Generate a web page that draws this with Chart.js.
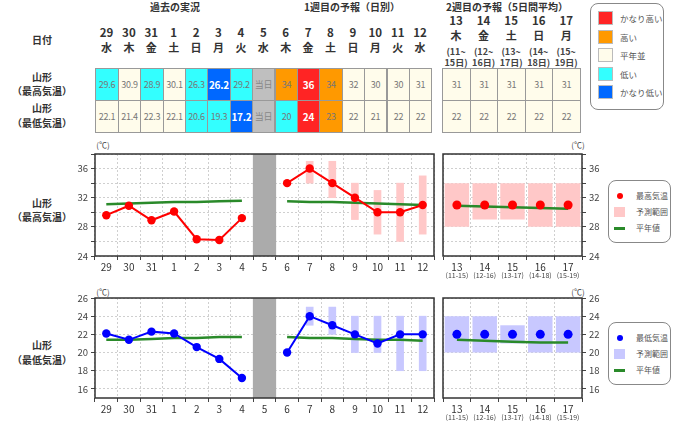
<!DOCTYPE html>
<html>
<head>
<meta charset="utf-8">
<script src="https://cdn.jsdelivr.net/npm/chart.js@4.4.0/dist/chart.umd.min.js"></script>
<style>
  body { margin: 0; background: #fff; font-family: "Noto Sans CJK JP", "Noto Sans", sans-serif; }
  #page { position: relative; width: 680px; height: 427px; overflow: hidden; }
  .t { position: absolute; transform: translate(-50%, -50%); white-space: nowrap; color: #333; line-height: 1; }
  .cell { position: absolute; box-sizing: border-box; border: 1px solid #999; display: flex;
          align-items: center; justify-content: center; font-size: 9px; color: #777; letter-spacing: -0.2px; }
  .box { position: absolute; border: 1px solid #888; border-radius: 8px; box-sizing: border-box; background: #fff; }
  canvas { position: absolute; }
</style>
</head>
<body>
<div id="page"></div>
<script>
// Days shown in the daily part (past + week 1), index 7 is today
const days = ['29', '30', '31', '1', '2', '3', '4', '5', '6', '7', '8', '9', '10', '11', '12']
const weekdays = ['水', '木', '金', '土', '日', '月', '火', '水', '木', '金', '土', '日', '月', '火', '水']
const todayIndex = 7

// Max temperature
const maxObs = [29.6, 30.9, 28.9, 30.1, 26.3, 26.2, 29.2, null, 34, 36, 34, 32, 30, 30, 31]
const maxNormal = [31.1, 31.2, 31.3, 31.4, 31.4, 31.5, 31.6, null, 31.5, 31.4, 31.4, 31.3, 31.2, 31.1, 31.0]
const maxRange = [null, null, null, null, null, null, null, null, null,
  [34, 37], [32, 37], [29, 34], [27, 33], [26, 34], [27, 35]]
const maxClass = ['l', 'n', 'l', 'n', 'l', 'vl', 'l', 't', 'h', 'vh', 'h', 'n', 'n', 'n', 'n']

// Min temperature
const minObs = [22.1, 21.4, 22.3, 22.1, 20.6, 19.3, 17.2, null, 20, 24, 23, 22, 21, 22, 22]
const minNormal = [21.4, 21.4, 21.5, 21.6, 21.6, 21.7, 21.7, null, 21.7, 21.6, 21.6, 21.5, 21.4, 21.4, 21.3]
const minRange = [null, null, null, null, null, null, null, null, null,
  [23, 25], [22, 25], [20, 24], [20, 24], [18, 24], [18, 24]]
const minClass = ['n', 'n', 'n', 'n', 'l', 'l', 'vl', 't', 'l', 'vh', 'h', 'n', 'n', 'n', 'n']

// Week 2 (5 day means)
const w2Days = ['13', '14', '15', '16', '17']
const w2Weekdays = ['木', '金', '土', '日', '月']
const w2From = ['11', '12', '13', '14', '15']
const w2To = ['15', '16', '17', '18', '19']
const w2Max = [31, 31, 31, 31, 31]
const w2MaxRange = [[28, 34], [29, 34], [29, 34], [28, 34], [28, 34]]
const w2MaxNormal = [30.9, 30.8, 30.7, 30.6, 30.5]
const w2Min = [22, 22, 22, 22, 22]
const w2MinRange = [[20, 24], [20, 24], [21, 23], [20, 24], [20, 24]]
const w2MinNormal = [21.4, 21.3, 21.2, 21.1, 21.1]

// Axis ticks
const maxTicks = [24, 26, 28, 30, 32, 34, 36, 38]
const maxTickLabels = [24, 28, 32, 36]
const minTicks = [16, 18, 20, 22, 24, 26]
const minTickLabels = [16, 18, 20, 22, 24, 26]

const classColors = { vh: '#FF2424', h: '#FF9900', n: '#FFFCEB', l: '#33FFFF', vl: '#0068FF', t: '#BFBFBF' }
const classNames = [['vh', 'かなり高い'], ['h', '高い'], ['n', '平年並'], ['l', '低い'], ['vl', 'かなり低い']]

const F = '"Noto Sans CJK JP", "Noto Sans", sans-serif'
const GREEN = '#2A8A2A'
const page = document.getElementById('page')

function txt (x, y, s, css) {
  const d = document.createElement('div')
  d.className = 't'
  d.style.left = x + 'px'
  d.style.top = y + 'px'
  d.style.cssText += css || ''
  d.textContent = s
  page.appendChild(d)
  return d
}

function box (x, y, w, h) {
  const d = document.createElement('div')
  d.className = 'box'
  Object.assign(d.style, { left: x + 'px', top: y + 'px', width: w + 'px', height: h + 'px' })
  page.appendChild(d)
  return d
}

function cell (x, w, y, h, text, cls) {
  const d = document.createElement('div')
  d.className = 'cell'
  const l = Math.round(x)
  d.style.left = l + 'px'
  d.style.width = (Math.round(x + w) - l + 1) + 'px'
  d.style.top = y + 'px'
  d.style.height = (h + 1) + 'px'
  d.style.background = classColors[cls]
  if (cls === 'vh' || cls === 'vl') {
    d.style.color = '#fff'
    d.style.fontWeight = 'bold'
    d.style.fontSize = '10px'
  }
  if (cls === 't') d.style.color = '#888'
  d.textContent = text
  page.appendChild(d)
}

//  Top table
const col0 = 95.3, colW = 22.4, w2col0 = 442.3, w2colW = 27.54
const head = 'font-weight:bold;font-size:10px;color:#333;'
txt(175, 7, '過去の実況', head)
txt(352, 7, '1週目の予報（日別）', head)
txt(507, 7, '2週目の予報（5日間平均）', head)
txt(42, 40, '日付', head)
txt(42, 77, '山形', head)
txt(42, 91, '（最高気温）', head)
txt(42, 108, '山形', head)
txt(42, 123, '（最低気温）', head)

const cellText = (v, i) => i === todayIndex ? '当日' : (i < todayIndex ? v.toFixed(1) : String(v))
days.forEach((d, i) => {
  const cx = col0 + (i + 0.5) * colW
  txt(cx, 33, d, 'font-weight:bold;font-size:11.5px;')
  txt(cx, 47, weekdays[i], 'font-weight:bold;font-size:11px;')
  cell(col0 + i * colW, colW, 68, 32, cellText(maxObs[i], i), maxClass[i])
  cell(col0 + i * colW, colW, 100, 32, cellText(minObs[i], i), minClass[i])
})
w2Days.forEach((d, i) => {
  const cx = w2col0 + (i + 0.5) * w2colW
  txt(cx, 21, d, 'font-weight:bold;font-size:11.5px;')
  txt(cx, 35, w2Weekdays[i], 'font-weight:bold;font-size:11px;')
  txt(cx, 51, '(' + w2From[i] + '~', 'font-weight:bold;font-size:9px;color:#444;')
  txt(cx, 62, w2To[i] + '日)', 'font-weight:bold;font-size:9px;color:#444;')
  cell(w2col0 + i * w2colW, w2colW, 68, 32, String(w2Max[i]), 'n')
  cell(w2col0 + i * w2colW, w2colW, 100, 32, String(w2Min[i]), 'n')
})

//  Colour legend of the table
box(590, 3, 74, 107)
classNames.forEach(([c, name], i) => {
  const y = 11 + i * 18.5
  const s = document.createElement('div')
  Object.assign(s.style, { position: 'absolute', left: '598px', top: y + 'px', width: '15px', height: '14px',
    background: classColors[c], border: '1px solid #bbb', boxSizing: 'border-box' })
  page.appendChild(s)
  const t = txt(620, y + 7, name, 'font-size:8.5px;color:#555;transform:translate(0,-50%);')
})

//  Left labels of the charts
txt(42, 203, '山形', head)
txt(42, 217, '（最高気温）', head)
txt(42, 345, '山形', head)
txt(42, 360, '（最低気温）', head)
txt(103, 145, '(℃)', 'font-size:8px;color:#444;')
txt(578, 145, '(℃)', 'font-size:8px;color:#444;')
txt(103, 292, '(℃)', 'font-size:8px;color:#444;')
txt(578, 292, '(℃)', 'font-size:8px;color:#444;')

//  Chart legends
function chartLegend (top, dot, fill, label) {
  box(608, top, 63, 63)
  const d = document.createElement('div')
  Object.assign(d.style, { position: 'absolute', left: '617px', top: (top + 13) + 'px', width: '6px', height: '6px',
    borderRadius: '50%', background: dot })
  page.appendChild(d)
  const s = document.createElement('div')
  Object.assign(s.style, { position: 'absolute', left: '614px', top: (top + 27) + 'px', width: '11px', height: '10px', background: fill })
  page.appendChild(s)
  const g = document.createElement('div')
  Object.assign(g.style, { position: 'absolute', left: '614px', top: (top + 47) + 'px', width: '11px', height: '3px', background: GREEN })
  page.appendChild(g)
  txt(636, top + 16, label, 'font-size:8px;color:#555;transform:translate(0,-50%);')
  txt(636, top + 32, '予測範囲', 'font-size:8px;color:#555;transform:translate(0,-50%);')
  txt(636, top + 48, '平年値', 'font-size:8px;color:#555;transform:translate(0,-50%);')
}
chartLegend(180, '#FF0000', '#FFC8C8', '最高気温')
chartLegend(322, '#0000FF', '#C8C8FF', '最低気温')

//  Charts
function addCanvas (x, y, w, h) {
  const c = document.createElement('canvas')
  c.width = w
  c.height = h
  Object.assign(c.style, { left: x + 'px', top: y + 'px', width: w + 'px', height: h + 'px' })
  page.appendChild(c)
  return c
}

const framePlugin = {
  id: 'frame',
  afterDatasetsDraw (c) {
    const a = c.chartArea, ctx = c.ctx
    ctx.save()
    ctx.strokeStyle = '#333'
    ctx.lineWidth = 1.5
    ctx.strokeRect(a.left, a.top, a.right - a.left, a.bottom - a.top)
    ctx.restore()
  }
}

const subLabelPlugin = {
  id: 'subLabels',
  afterDraw (c) {
    const s = c.scales.x, ctx = c.ctx
    ctx.save()
    ctx.font = '7px ' + F
    ctx.fillStyle = '#444'
    ctx.textAlign = 'center'
    ctx.textBaseline = 'middle'
    w2From.forEach((f, i) => ctx.fillText('(' + f + '-' + w2To[i] + ')', s.getPixelForValue(i), s.top + 19.5))
    ctx.restore()
  }
}

function axes (yMin, yMax, yTicks, yLabels, yPos, yW, xH) {
  const grid = { color: '#cfcfcf', tickColor: '#444', tickLength: 4, tickBorderDash: [] }
  return {
    x: {
      offset: true,
      grid: Object.assign({ offset: true }, grid),
      border: { display: false, dash: [2, 2] },
      ticks: { font: { size: 10, family: F }, color: '#333', padding: 1, maxRotation: 0, autoSkip: false },
      afterFit: s => { s.height = xH }
    },
    y: {
      position: yPos,
      min: yMin,
      max: yMax,
      afterBuildTicks: s => { s.ticks = yTicks.map(v => ({ value: v })) },
      grid: grid,
      border: { display: false, dash: [2, 2] },
      ticks: {
        font: { size: 9.5, family: F },
        color: '#444',
        padding: 3,
        callback: v => yLabels.includes(v) ? v : ''
      },
      afterFit: s => { s.width = yW }
    }
  }
}

function mainChart (cv, pad, xH, obs, normal, range, yMin, yMax, yTicks, yLabels, dot, fill) {
  const band = days.map((d, i) => i === todayIndex ? [yMin, yMax] : null)
  return new Chart(cv, {
    type: 'bar',
    data: {
      labels: days,
      datasets: [
        { type: 'line', data: obs, borderColor: dot, backgroundColor: dot, pointRadius: 4.2,
          pointBorderWidth: 0, borderWidth: 2, order: 1 },
        { type: 'line', data: normal, borderColor: GREEN, pointRadius: 0, borderWidth: 2.5, order: 2 },
        { data: range, backgroundColor: fill, barThickness: 7, grouped: false, order: 3 },
        { data: band, backgroundColor: '#ABABAB', barPercentage: 1, categoryPercentage: 1, grouped: false, order: 4 }
      ]
    },
    options: {
      responsive: false,
      animation: false,
      layout: { padding: pad },
      plugins: { legend: { display: false }, tooltip: { enabled: false } },
      scales: axes(yMin, yMax, yTicks, yLabels, 'left', 55, xH)
    },
    plugins: [framePlugin]
  })
}

function weekTwoChart (cv, pad, xH, vals, range, normal, yMin, yMax, yTicks, yLabels, dot, fill) {
  return new Chart(cv, {
    type: 'bar',
    data: {
      labels: w2Days,
      datasets: [
        { type: 'line', data: vals, showLine: false, backgroundColor: dot, pointRadius: 4.5,
          pointBorderWidth: 0, order: 1 },
        { type: 'line', data: normal, borderColor: GREEN, pointRadius: 0, borderWidth: 2.5, order: 2 },
        { data: range, backgroundColor: fill, barPercentage: 0.88, categoryPercentage: 1, grouped: false, order: 3 }
      ]
    },
    options: {
      responsive: false,
      animation: false,
      layout: { padding: pad },
      plugins: { legend: { display: false }, tooltip: { enabled: false } },
      scales: axes(yMin, yMax, yTicks, yLabels, 'right', 33, xH)
    },
    plugins: [framePlugin, subLabelPlugin]
  })
}

mainChart(addCanvas(40, 135, 400, 145), { top: 19, right: 6, left: 0, bottom: 0 }, 24,
  maxObs, maxNormal, maxRange, 24, 38, maxTicks, maxTickLabels, '#FF0000', '#FFC8C8')
weekTwoChart(addCanvas(435, 135, 180, 150), { top: 19, left: 8, right: 0, bottom: 0 }, 29,
  w2Max, w2MaxRange, w2MaxNormal, 24, 38, maxTicks, maxTickLabels, '#FF0000', '#FFC8C8')
mainChart(addCanvas(40, 285, 400, 142), { top: 13, right: 6, left: 0, bottom: 0 }, 29,
  minObs, minNormal, minRange, 15, 26, minTicks, minTickLabels, '#0000FF', '#C8C8FF')
weekTwoChart(addCanvas(435, 285, 180, 142), { top: 13, left: 8, right: 0, bottom: 0 }, 29,
  w2Min, w2MinRange, w2MinNormal, 15, 26, minTicks, minTickLabels, '#0000FF', '#C8C8FF')
</script>
</body>
</html>
